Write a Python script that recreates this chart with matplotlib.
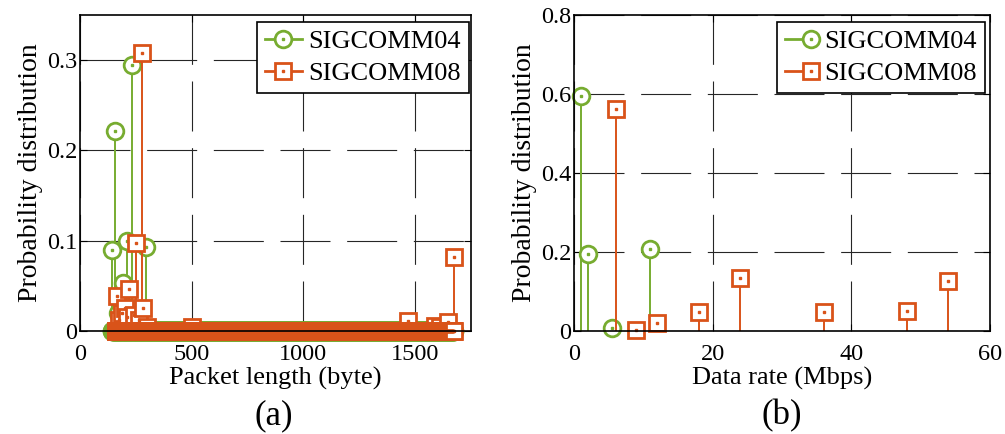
import matplotlib
matplotlib.use("Agg")
import matplotlib.pyplot as plt
import numpy as np
from matplotlib.legend_handler import HandlerLine2D
from matplotlib.lines import Line2D

plt.rcParams["font.family"] = ["Liberation Serif", "DejaVu Serif"]
plt.rcParams["font.size"] = 17.5

GREEN = "#77AC30"
ORANGE = "#D95319"

# (a) packet length distribution: every length in the range is a stem,
# only the listed lengths have a visible probability
len04_range = (142, 1675)
len04_peaks = [145, 157, 170, 182, 194, 209, 220, 234, 260, 297]
prob04_peaks = [0.090, 0.222, 0.020, 0.030, 0.053, 0.100, 0.025, 0.295, 0.015, 0.093]

len08_range = (162, 1672)
len08_peaks = [164, 175, 190, 201, 212, 221, 240, 251, 265, 279, 283, 300,
               500, 1470, 1590, 1610, 1648, 1675]
prob08_peaks = [0.039, 0.012, 0.020, 0.026, 0.015, 0.046, 0.018, 0.097, 0.012,
                0.308, 0.025, 0.004, 0.004, 0.011, 0.005, 0.004, 0.010, 0.082]

# (b) data rate distribution
rate04 = [1, 2, 5.5, 11]
prob_rate04 = [0.596, 0.195, 0.007, 0.207]
rate08 = [6, 9, 12, 18, 24, 36, 48, 54]
prob_rate08 = [0.562, 0.003, 0.021, 0.049, 0.133, 0.047, 0.051, 0.127]


def full_series(lo_hi, peaks, probs):
    x = np.arange(lo_hi[0], lo_hi[1] + 1)
    y = np.zeros(len(x))
    for p, v in zip(peaks, probs):
        if p < x[0] or p > x[-1]:
            x = np.append(x, p)
            y = np.append(y, v)
        else:
            y[p - x[0]] = v
    return x, y


def stem(ax, x, y, color, marker, ms, z):
    ax.vlines(x, 0, y, color=color, lw=1.4, zorder=z)
    ax.plot(x, y, ls="none", marker=marker, ms=ms, mfc="white", mec=color,
            mew=2.0, clip_on=False, zorder=z + 0.1)
    ax.plot(x, y, ls="none", marker="s", ms=1.6, mfc=color, mec=color,
            clip_on=False, zorder=z + 0.2)


class StemHandler(HandlerLine2D):
    # line with the marker placed at a fraction of the handle length
    def __init__(self, frac=0.5, **kw):
        super().__init__(**kw)
        self.frac = frac

    def create_artists(self, legend, orig_handle, xdescent, ydescent,
                       width, height, fontsize, trans):
        y = height / 2 - ydescent
        x0, x1 = -xdescent, width - xdescent
        xm = x0 + self.frac * (x1 - x0)
        c = orig_handle.get_color()
        line = Line2D([x0, x1], [y, y], color=c, lw=2.0)
        mark = Line2D([xm], [y], ls="none", marker=orig_handle.get_marker(),
                      ms=orig_handle.get_markersize(), mfc="white", mec=c, mew=2.0)
        dot = Line2D([xm], [y], ls="none", marker="s", ms=1.6, color=c)
        for a in (line, mark, dot):
            a.set_transform(trans)
        return [line, mark, dot]


def style(ax):
    ax.grid(True, color="0.15", lw=0.8, ls=(0, (45, 15)))
    ax.set_axisbelow(True)
    ax.tick_params(direction="in", length=5, width=0.8, top=True, right=True)
    ax.tick_params(axis="x", pad=9)
    ax.tick_params(axis="y", pad=2)
    for s in ax.spines.values():
        s.set_linewidth(1.2)
        s.set_zorder(5)


def legend(ax, anchor, frac, hlen):
    h = [Line2D([], [], color=GREEN, marker="o", ms=12),
         Line2D([], [], color=ORANGE, marker="s", ms=11)]
    leg = ax.legend(h, ["SIGCOMM04", "SIGCOMM08"], loc="upper right",
                    bbox_to_anchor=anchor, borderaxespad=0, fancybox=False,
                    edgecolor="black", framealpha=1, handlelength=hlen,
                    handletextpad=0.25, labelspacing=0.3, borderpad=0.3,
                    fontsize=19, handler_map={Line2D: StemHandler(frac)})
    leg.get_frame().set_linewidth(1.2)
    leg.set_zorder(10)


fig = plt.figure(figsize=(10.05, 4.34), dpi=100)
ax1 = fig.add_axes([0.0796, 0.2373, 0.389, 0.728])
ax2 = fig.add_axes([0.5711, 0.2373, 0.4139, 0.728])

x04, y04 = full_series(len04_range, len04_peaks, prob04_peaks)
x08, y08 = full_series(len08_range, len08_peaks, prob08_peaks)
stem(ax1, x04, y04, GREEN, "o", 12, 2)
stem(ax1, x08, y08, ORANGE, "s", 11, 3)
ax1.set_xlim(0, 1750)
ax1.set_ylim(0, 0.35)
ax1.set_xticks([0, 500, 1000, 1500])
ax1.set_yticks([0, 0.1, 0.2, 0.3])
ax1.set_yticklabels(["0", "0.1", "0.2", "0.3"])
ax1.set_xlabel("Packet length (byte)", fontsize=19, labelpad=2)
ax1.set_ylabel("Probability distribution", fontsize=20, labelpad=3)
style(ax1)
legend(ax1, (0.995, 0.978), 0.5, 1.4)

stem(ax2, rate04, prob_rate04, GREEN, "o", 12, 2)
stem(ax2, rate08, prob_rate08, ORANGE, "s", 11, 3)
ax2.set_xlim(0, 60)
ax2.set_ylim(0, 0.8)
ax2.set_xticks([0, 20, 40, 60])
ax2.set_yticks([0, 0.2, 0.4, 0.6, 0.8])
ax2.set_yticklabels(["0", "0.2", "0.4", "0.6", "0.8"])
ax2.set_xlabel("Data rate (Mbps)", fontsize=19, labelpad=2)
ax2.set_ylabel("Probability distribution", fontsize=20, labelpad=3)
style(ax2)
legend(ax2, (0.988, 0.978), 0.78, 1.25)

fig.text(0.272, 0.042, "(a)", fontsize=25, ha="center", va="center")
fig.text(0.778, 0.042, "(b)", fontsize=25, ha="center", va="center")

fig.savefig("out.png", dpi=100)
